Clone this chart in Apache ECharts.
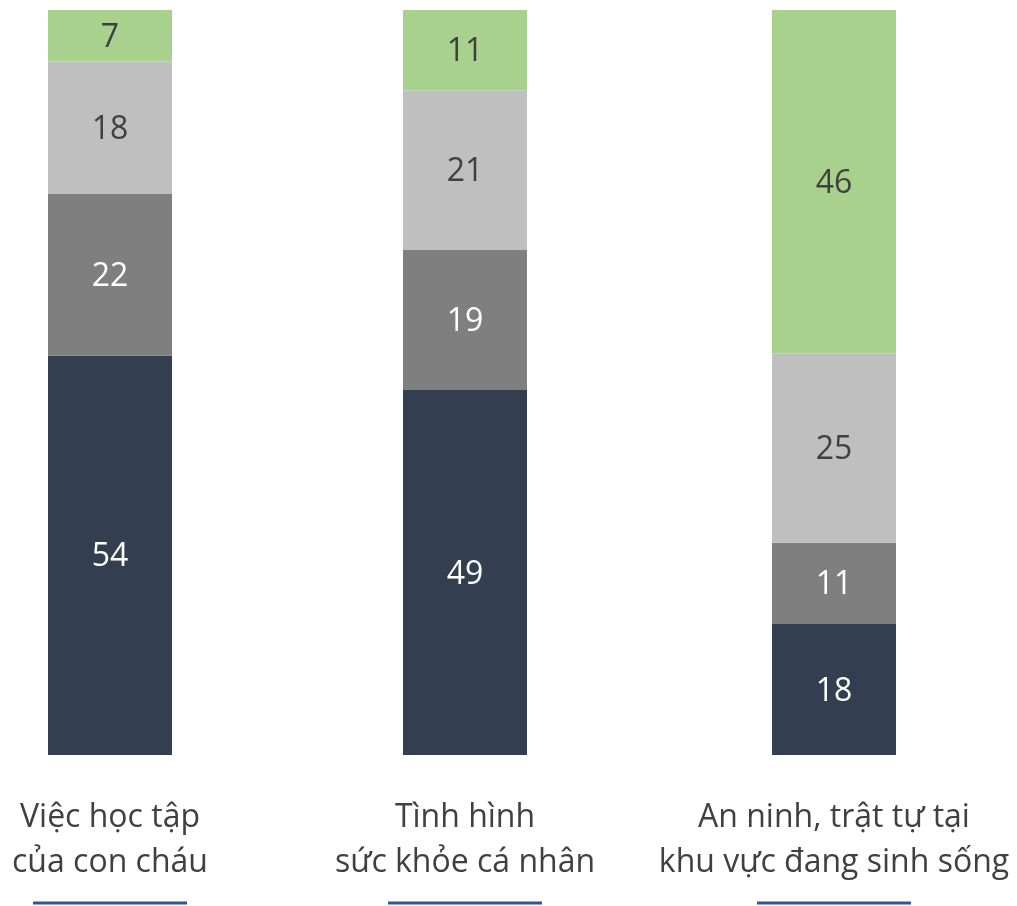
<!DOCTYPE html>
<html><head><meta charset="utf-8">
<script src="https://cdn.jsdelivr.net/npm/echarts@6/dist/echarts.min.js"></script>
<style>html,body{margin:0;padding:0;background:#fff}#c{width:1017px;height:906px}</style>
</head><body><div id="c"></div>
<script>
const categories = ['Việc học tập\ncủa con cháu', 'Tình hình\nsức khỏe cá nhân', 'An ninh, trật tự tại\nkhu vực đang sinh sống'];
// shares (%) per segment, bottom to top
const level1 = [53.6, 49.0, 17.6];
const level2 = [21.7, 18.8, 10.9];
const level3 = [17.8, 21.4, 25.4];
const level4 = [6.9, 10.8, 46.1];
const levels = [level1, level2, level3, level4];
const colors = ['#333F50', '#7F7F7F', '#BFBFBF', '#A9D18E'];
const labelColors = ['#FFFFFF', '#FFFFFF', '#404040', '#404040'];
const centers = [110, 465, 834];
const FONT = 'Open Sans';

const grids = [], xAxes = [], yAxes = [], series = [];
categories.forEach((cat, i) => {
  grids.push({left: centers[i] - 100, width: 200, top: 10, bottom: 151});
  xAxes.push({type: 'category', gridIndex: i, data: [cat],
    axisLine: {show: false}, axisTick: {show: false},
    axisLabel: {color: '#404040', fontFamily: FONT, fontSize: 32, lineHeight: 45, margin: 40, interval: 0}});
  yAxes.push({type: 'value', gridIndex: i, min: 0, max: 100, show: false, splitLine: {show: false}});
  levels.forEach((arr, k) => {
    series.push({type: 'bar', xAxisIndex: i, yAxisIndex: i, stack: 's' + i, barWidth: 124,
      data: [arr[i]], itemStyle: {color: colors[k]},
      label: {show: true, position: 'inside', offset: [0, 2], color: labelColors[k], fontFamily: FONT, fontSize: 32,
        formatter: p => Math.round(p.value)}});
  });
});

const chart = echarts.init(document.getElementById('c'));
chart.setOption({
  animation: false,
  grid: grids, xAxis: xAxes, yAxis: yAxes, series: series,
  graphic: centers.map(c => ({type: 'line', shape: {x1: c - 77, y1: 903, x2: c + 77, y2: 903},
    style: {stroke: '#2F5597', lineWidth: 3}}))
});
</script></body></html>
